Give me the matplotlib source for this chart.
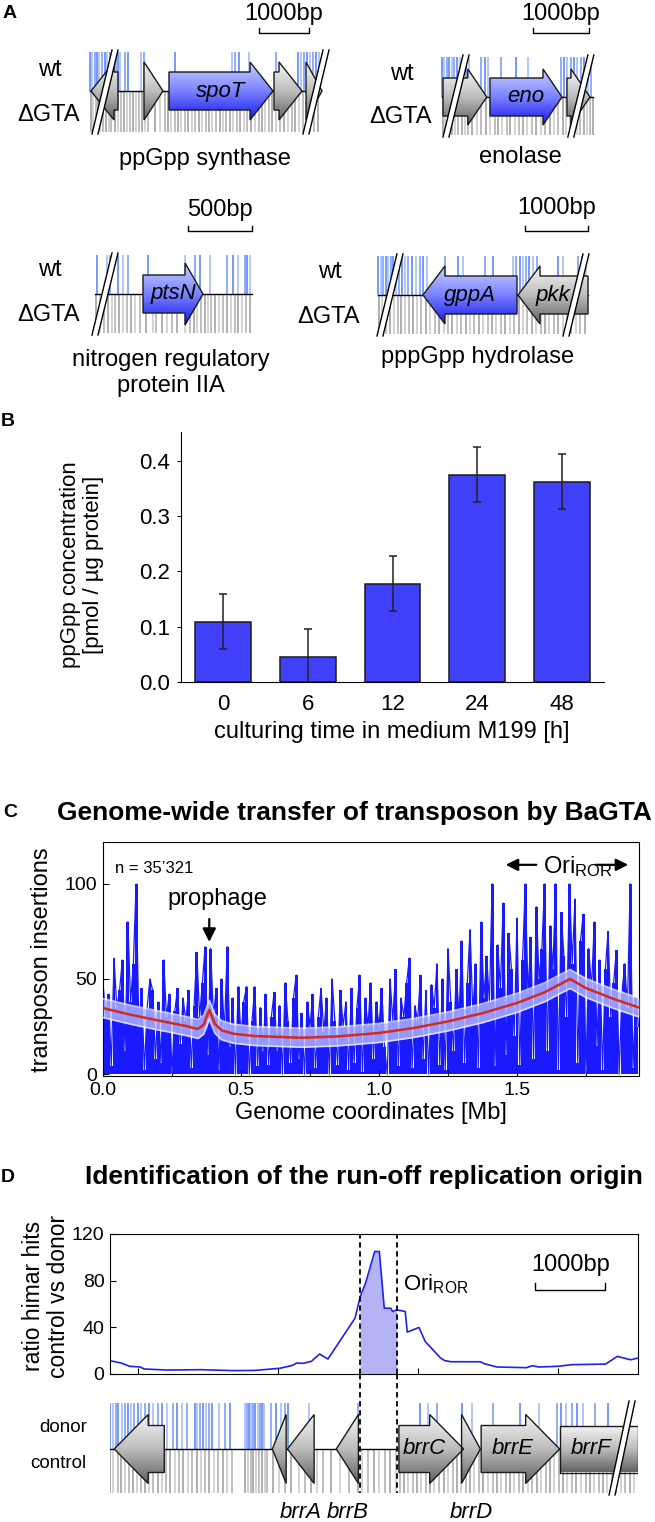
import numpy as np
import matplotlib
matplotlib.use('Agg')
import matplotlib.pyplot as plt
from matplotlib.patches import Polygon
from matplotlib.colors import LinearSegmentedColormap

plt.rcParams['font.family'] = ['Liberation Sans', 'DejaVu Sans']
plt.rcParams['mathtext.fontset'] = 'custom'
plt.rcParams['mathtext.rm'] = 'Liberation Sans'
plt.rcParams['mathtext.it'] = 'Liberation Sans:italic'

# ---------------- data ----------------
# panel A: genes (name, start bp, end bp, strand) and insertion sites (bp)
a1_genes = [('', 20, 560, -1), ('', 1080, 1460, 1), ('spoT', 1580, 3660, 1),
            ('', 3680, 4240, 1), ('', 4320, 4640, 1)]
a1_wt = [0, 40, 100, 140, 180, 240, 300, 340, 400, 440, 480, 520, 560, 600, 700, 760,
         1020, 1080, 1700, 2840, 2900, 2980, 3180, 3720, 4160, 4220, 4280, 4340, 4400,
         4460, 4520, 4580]
a1_gta = [20, 60, 120, 160, 200, 260, 320, 380, 420, 500, 560, 620, 680, 740, 800, 860,
          920, 980, 1040, 1100, 1160, 1300, 1400, 1500, 1560, 1620, 1700, 1760, 1820,
          1900, 1960, 2040, 2100, 2180, 2240, 2320, 2380, 2440, 2520, 2600, 2660, 2720,
          2800, 2860, 2940, 3000, 3080, 3140, 3220, 3300, 3380, 3440, 3500, 3580, 3640,
          3720, 3800, 3880, 3960, 4040, 4100, 4180, 4260, 4340, 4400, 4480, 4560]

a2_genes = [('', 18, 800, 1), ('eno', 857, 2143, 1), ('', 2232, 2643, 1)]
a2_wt = [0, 40, 90, 130, 180, 220, 260, 330, 380, 420, 480, 700, 760, 820, 1050, 1320,
         1540, 2120, 2180, 2240, 2300, 2360, 2420, 2480, 2540, 2600, 2660]
a2_gta = [10, 60, 110, 170, 230, 290, 350, 410, 470, 540, 620, 700, 780, 860, 940, 1000,
          1080, 1160, 1220, 1300, 1380, 1440, 1520, 1600, 1680, 1760, 1840, 1920, 2000,
          2080, 2160, 2220, 2290, 2350, 2410, 2470, 2530, 2590, 2650, 2700]

a3_genes = [('ptsN', 375, 844, 1)]
a3_wt = [13, 91, 117, 182, 221, 260, 416, 703, 781, 820, 898, 1029, 1081, 1120, 1172,
         1185, 1211]
a3_gta = [10, 40, 70, 100, 130, 160, 190, 220, 250, 280, 310, 350, 400, 450, 480, 520,
          560, 600, 640, 700, 740, 770, 800, 830, 860, 880, 910, 940, 970, 1000, 1030,
          1060, 1090, 1120, 1150, 1180, 1210]

a4_genes = [('gppA', 714, 2206, -1), ('pkk', 2222, 3333, -1)]
a4_wt = [0, 40, 80, 120, 160, 200, 240, 290, 330, 380, 430, 480, 540, 600, 660, 720, 770,
         1060, 1270, 1350, 1700, 1830, 2140, 2190, 2250, 2300, 2350, 2400, 2460, 2520,
         2850, 2940, 3180, 3240, 3300]
a4_gta = [10, 70, 130, 190, 250, 310, 370, 430, 490, 560, 620, 690, 760, 830, 900, 970,
          1040, 1110, 1180, 1250, 1320, 1390, 1460, 1530, 1600, 1670, 1740, 1810, 1880,
          1950, 2020, 2090, 2160, 2230, 2300, 2370, 2440, 2510, 2580, 2650, 2720, 2790,
          2860, 2930, 3000, 3070, 3140, 3210, 3280]

# panel B
b_times = ['0', '6', '12', '24', '48']
b_ppgpp = [0.109, 0.045, 0.178, 0.375, 0.362]
b_err = [0.050, 0.050, 0.050, 0.050, 0.050]

# panel C: insertions per 10 kb bin, fitted trend
c_bin = 0.01
c_counts = [48, 30, 42, 4, 61, 35, 44, 60, 12, 80,
            38, 58, 100, 25, 45, 2, 35, 50, 44, 8,
            38, 6, 60, 30, 42, 0, 33, 45, 16, 40,
            28, 44, 3, 36, 64, 30, 48, 67, 10, 66,
            30, 45, 2, 50, 22, 67, 14, 40, 0, 46,
            20, 38, 46, 0, 28, 46, 4, 35, 12, 42,
            5, 30, 43, 12, 36, 0, 48, 28, 6, 40,
            52, 8, 32, 0, 38, 25, 42, 3, 30, 45,
            22, 40, 0, 50, 28, 5, 44, 25, 38, 2,
            45, 6, 35, 52, 1, 40, 25, 48, 8, 38,
            25, 45, 14, 0, 50, 28, 55, 4, 40, 30,
            48, 61, 3, 36, 28, 52, 8, 44, 0, 47,
            35, 58, 5, 50, 2, 66, 38, 12, 55, 30,
            70, 6, 48, 76, 32, 58, 3, 80, 40, 62,
            38, 100, 4, 68, 45, 90, 10, 74, 55, 20,
            82, 5, 60, 100, 42, 72, 8, 88, 50, 66,
            100, 12, 78, 55, 100, 2, 85, 62, 30, 100,
            58, 92, 6, 70, 84, 0, 66, 45, 80, 15,
            60, 2, 55, 75, 30, 48, 65, 0, 42, 58,
            35, 100, 3, 40, 25]
c_fit_x = [0.0, 0.1, 0.2, 0.3, 0.344, 0.365, 0.385, 0.405, 0.43, 0.473, 0.55, 0.72,
           0.85, 1.0, 1.125, 1.25, 1.375, 1.5, 1.6, 1.692, 1.75, 1.85, 1.942]
c_fit_y = [34.7, 31.2, 28.2, 25.3, 23.7, 26.0, 33.8, 26.5, 23.0, 21.2, 20.0, 19.1,
           19.8, 21.6, 24.2, 27.7, 32.0, 37.4, 43.0, 50.0, 45.2, 39.5, 35.0]

# panel D: ratio of himar hits along the locus (bp)
d_pos = [0, 161, 281, 430, 490, 818, 1296, 1773, 2072, 2370, 2430, 2609, 2669, 2758,
         2878, 2997, 3116, 3504, 3576, 3654, 3785, 3851, 3922, 4012, 4042, 4101, 4221,
         4251, 4418, 4507, 4728, 4788, 4878, 5296, 5355, 5534, 5952, 6042, 6131, 6400,
         6609, 7087, 7254, 7445, 7546]
d_ratio = [11.4, 9.4, 6.6, 6.0, 4.3, 3.4, 3.7, 2.9, 3.1, 4.6, 4.9, 7.4, 9.4, 9.1,
           10.8, 17.1, 12.8, 47.9, 66.0, 77.9, 105, 105, 56.4, 56.4, 53.6, 55.0, 53.6,
           35.9, 39.9, 27.9, 13.6, 11.4, 10.5, 10.5, 8.8, 6.0, 5.4, 7.1, 6.0, 6.6,
           8.0, 8.5, 15.1, 12.2, 13.6]
d_ori = [3576, 4101]
d_genes = [('', 60, 776, -1), ('', 2322, 2519, -1), ('brrA', 2537, 2919, -1),
           ('brrB', 3236, 3552, -1), ('brrC', 4131, 5057, 1), ('brrD', 5027, 5296, 1),
           ('brrE', 5307, 6430, 1), ('brrF', 6430, 7546, 0)]
d_donor = [0, 40, 80, 120, 170, 210, 260, 300, 350, 400, 450, 500, 560, 620, 680, 750,
           820, 900, 960, 1030, 1100, 1210, 1250, 1290, 1330, 1370, 1420, 1460, 1560,
           1650, 1720, 1930, 1960, 1990, 2020, 2050, 2080, 2110, 2140, 2170, 2200, 2300,
           2380, 2450, 2500, 2550, 2840, 3540, 4430, 4550, 4670, 5040, 5170, 5470, 5860,
           6130, 6390, 6450, 6520, 6600, 6680, 6760, 6940, 7120]
d_control = [0, 50, 110, 160, 220, 270, 330, 390, 440, 500, 560, 610, 680, 740, 800,
             860, 930, 990, 1050, 1110, 1170, 1240, 1300, 1360, 1420, 1490, 1550, 1610,
             1680, 1740, 1930, 1970, 2010, 2050, 2090, 2130, 2170, 2210, 2250, 2330,
             2420, 2500, 2590, 2700, 2790, 2880, 2960, 3050, 3160, 3290, 3420, 3540,
             3610, 3690, 3770, 3850, 3930, 4010, 4090, 4140, 4200, 4260, 4330, 4390,
             4450, 4520, 4580, 4640, 4710, 4770, 4830, 4900, 4960, 5020, 5090, 5150,
             5210, 5280, 5340, 5400, 5470, 5530, 5590, 5660, 5720, 5780, 5850, 5910,
             5970, 6040, 6100, 6160, 6230, 6290, 6350, 6420, 6480, 6540, 6610, 6670,
             6730, 6800, 6860, 6920, 6990, 7050, 7110, 7180, 7240, 7300, 7370, 7430,
             7490]

# ---------------- helpers ----------------
W, H = 655, 1522
fig = plt.figure(figsize=(W / 100, H / 100), dpi=100)


def px_axes(x0, y0, x1, y1):
    return fig.add_axes([x0 / W, 1 - y1 / H, (x1 - x0) / W, (y1 - y0) / H])


def ftext(x, y, s, **kw):
    kw.setdefault('ha', 'center')
    kw.setdefault('va', 'center')
    fig.text(x / W, 1 - y / H, s, **kw)


BLUE_GRAD = LinearSegmentedColormap.from_list('bg', ['#c9d0ff', '#7a82ff', '#1818ee'])
GREY_GRAD = LinearSegmentedColormap.from_list('gg', ['#f5f5f5', '#bdbdbd', '#626262'])
GRAD = np.linspace(0, 1, 100).reshape(-1, 1)


def arrow_pts(s, e, strand, hl, bh, hh):
    if strand == 0:
        return [(s, -bh), (e, -bh), (e, bh), (s, bh)]
    hl = min(hl, e - s)
    if strand > 0:
        b = e - hl
        return [(s, -bh), (b, -bh), (b, -hh), (e, 0), (b, hh), (b, bh), (s, bh)]
    b = s + hl
    return [(e, -bh), (b, -bh), (b, -hh), (s, 0), (b, hh), (b, bh), (e, bh)]


def draw_gene(ax, s, e, strand, cmap, hl, bh, hh):
    pts = arrow_pts(s, e, strand, hl, bh, hh)
    patch = Polygon(pts, closed=True, fc='none', ec='#1a1a1a', lw=1.0, zorder=4)
    ax.add_patch(patch)
    ys = [p[1] for p in pts]
    im = ax.imshow(GRAD, extent=(s, e, min(ys), max(ys)), cmap=cmap, aspect='auto',
                   origin='upper', zorder=3, interpolation='bilinear')
    im.set_clip_path(patch)


def draw_break(ax, xc, y0, y1, bpp, slant=20, gap=6):
    dx = slant * bpp / 2
    g = gap * bpp / 2
    xs = [xc - dx - g, xc - dx + g, xc + dx + g, xc + dx - g]
    ax.fill(xs, [y0, y0, y1, y1], color='white', lw=0, zorder=6)
    ax.plot([xs[0], xs[3]], [y0, y1], color='k', lw=1.0, zorder=7)
    ax.plot([xs[1], xs[2]], [y0, y1], color='k', lw=1.0, zorder=7)


def ticks(ax, sites, y0, y1, color):
    alphas = [1.0, 0.55, 0.8]
    for k, a in enumerate(alphas):
        ax.vlines(sites[k::3], y0, y1, colors=color, lw=1.1, alpha=a, zorder=1)


def gene_map(rect, x0px, yc, bpp, span, genes, hi, top_sites, bot_sites, breaks,
             head_px, bh, hh, up, dn, label_frac=0.5, below=-63):
    ax = px_axes(*rect)
    ax.set_axis_off()
    ticks(ax, top_sites, 0, up, '#4f7dff')
    ticks(ax, bot_sites, -dn, 0, '#9a9a9a')
    ax.plot(span, [0, 0], color='k', lw=1.0, zorder=2)
    hl = head_px * bpp
    for name, s, e, strand in genes:
        cmap = BLUE_GRAD if name in hi else GREY_GRAD
        draw_gene(ax, s, e, strand, cmap, hl, bh, hh)
        if not name:
            continue
        if name in ('brrA', 'brrB', 'brrD'):
            ax.text((s + e) / 2, below, name, ha='center', va='center', fontsize=16,
                    style='italic', clip_on=False)
        else:
            if strand < 0:
                lx = e - label_frac * (e - s)
            else:
                lx = s + label_frac * (e - s)
            ax.text(lx, 0, name, ha='center', va='center', fontsize=16,
                    style='italic', zorder=8)
    for xb in breaks:
        draw_break(ax, xb, -dn - 2, up + 2, bpp)
    ax.set_xlim((rect[0] - x0px) * bpp, (rect[2] - x0px) * bpp)
    ax.set_ylim(yc - rect[3], yc - rect[1])
    return ax


def scale_bar(ax, x0, x1, y, text, dy=19):
    ax.plot([x0, x0, x1, x1], [y + 5, y, y, y + 5], color='k', lw=1.0, clip_on=False)
    ax.text((x0 + x1) / 2, y + dy, text, ha='center', va='center', fontsize=17,
            clip_on=False)


# ---------------- panel A ----------------
ftext(10, 14, 'A', fontsize=14, fontweight='bold')

ax = gene_map((82, 5, 330, 140), 90, 91, 20.0, (0, 4600), a1_genes, ['spoT'], a1_wt,
              a1_gta, [300, 4520], 23, 19, 29, 39, 41)
scale_bar(ax, 3380, 4380, 58, '1000bp')
ax = gene_map((434, 5, 600, 145), 442, 97, 17.86, (0, 2700), a2_genes, ['eno'], a2_wt,
              a2_gta, [250, 2480], 19, 19, 28, 40, 38)
scale_bar(ax, 1625, 2625, 64, '1000bp')
ax = gene_map((85, 190, 262, 342), 95, 294, 7.8125, (0, 1227), a3_genes, ['ptsN'],
              a3_wt, a3_gta, [78], 18, 19, 31, 39, 39)
scale_bar(ax, 727, 1227, 63, '500bp', dy=21)
ax = gene_map((370, 190, 600, 342), 378, 295, 15.87, (0, 3333), a4_genes, ['gppA'],
              a4_wt, a4_gta, [190, 3142], 22, 19, 29, 39, 39)
scale_bar(ax, 2333, 3333, 64, '1000bp', dy=23)

for (xw, yw, xd, yd) in [(50, 70, 49, 115), (402, 74, 400, 117), (50, 270, 49, 315),
                         (330, 272, 328, 317)]:
    ftext(xw, yw, 'wt', fontsize=17)
    ftext(xd, yd, 'ΔGTA', fontsize=17)
ftext(205, 159, 'ppGpp synthase', fontsize=17)
ftext(520, 157, 'enolase', fontsize=17)
ftext(171, 373, 'nitrogen regulatory\nprotein IIA', fontsize=17, linespacing=1.25)
ftext(478, 357, 'pppGpp hydrolase', fontsize=17)

# ---------------- panel B ----------------
ftext(8, 422, 'B', fontsize=14, fontweight='bold')
axb = px_axes(181, 432, 604, 682)
xb = np.arange(len(b_times))
axb.bar(xb, b_ppgpp, width=0.66, color='#4040fb', edgecolor='#1a1a1a', lw=1.1,
        yerr=b_err, capsize=3,
        error_kw=dict(ecolor='#222222', elinewidth=1.1, capthick=1.1))
axb.set_xlim(-0.5, 4.5)
axb.set_ylim(0, 0.452)
axb.set_xticks(xb)
axb.set_xticklabels(b_times)
axb.set_yticks([0, 0.1, 0.2, 0.3, 0.4])
axb.set_yticklabels(['0.0', '0.1', '0.2', '0.3', '0.4'])
axb.spines['top'].set_visible(False)
axb.spines['right'].set_visible(False)
axb.tick_params(axis='x', length=0, pad=9, labelsize=16)
axb.tick_params(axis='y', length=3, pad=5, labelsize=16)
ftext(82, 565, 'ppGpp concentration\n[pmol / µg protein]', fontsize=16, rotation=90,
      linespacing=1.15)
ftext(392, 732, 'culturing time in medium M199 [h]', fontsize=17)

# ---------------- panel C ----------------
ftext(10, 813, 'C', fontsize=14, fontweight='bold')
ftext(354, 813, 'Genome-wide transfer of transposon by BaGTA', fontsize=19,
      fontweight='bold')
axc = px_axes(103, 842, 639, 1076)
cx = np.arange(len(c_counts)) * c_bin
axc.fill_between(cx, 0, c_counts, step='mid', color='#1a1aff', lw=0, zorder=1)
axc.plot(cx, c_counts, color='#1a1aff', lw=0.9, zorder=2)
fit_y = np.array(c_fit_y)
axc.fill_between(c_fit_x, fit_y - 5, fit_y + 5, color='#b4b8ff', alpha=0.8, lw=0,
                 zorder=3)
axc.plot(c_fit_x, fit_y - 5, color='white', lw=1.2, alpha=0.7, zorder=3)
axc.plot(c_fit_x, fit_y + 5, color='white', lw=1.2, alpha=0.7, zorder=3)
axc.plot(c_fit_x, c_fit_y, color='#d42a1e', lw=1.8, zorder=4)
axc.set_xlim(0, 1.942)
axc.set_ylim(-1, 122)
axc.set_xticks([0, 0.5, 1.0, 1.5])
axc.set_xticklabels(['0.0', '0.5', '1.0', '1.5'])
axc.set_xticks([0.25, 0.75, 1.25, 1.75], minor=True)
axc.set_yticks([0, 50, 100])
axc.tick_params(which='both', direction='in', length=4, labelsize=14, pad=4)
axc.text(0.043, 108, 'n = 35’321', fontsize=12, ha='left', va='center')
axc.text(0.413, 92, 'prophage', fontsize=17, ha='center', va='center')
axc.annotate('', xy=(0.385, 68), xytext=(0.385, 83),
             arrowprops=dict(arrowstyle='-|>', color='k', lw=1.6, mutation_scale=20))
axc.text(1.595, 109, r'Ori$_{\mathregular{ROR}}$', fontsize=17, ha='left', va='center')
axc.annotate('', xy=(1.449, 110), xytext=(1.58, 110),
             arrowprops=dict(arrowstyle='-|>', color='k', lw=1.6, mutation_scale=18))
axc.annotate('', xy=(1.913, 110), xytext=(1.775, 110),
             arrowprops=dict(arrowstyle='-|>', color='k', lw=1.6, mutation_scale=18))
ftext(42, 960, 'transposon insertions', fontsize=17, rotation=90)
ftext(371, 1113, 'Genome coordinates [Mb]', fontsize=17)

# ---------------- panel D ----------------
ftext(8, 1177, 'D', fontsize=14, fontweight='bold')
ftext(364, 1177, 'Identification of the run-off replication origin', fontsize=19,
      fontweight='bold')
axd = px_axes(110, 1234, 638, 1374)
dx = np.array(d_pos)
dy = np.array(d_ratio)
inside = (dx >= d_ori[0]) & (dx <= d_ori[1])
axd.fill_between(dx, 0, dy, where=inside, color='#b3b3f5', lw=0, zorder=1)
axd.plot(dx, dy, color='#2020f0', lw=1.2, zorder=2)
for xo in d_ori:
    axd.axvline(xo, color='k', ls=(0, (3, 2)), lw=1.3, zorder=3)
axd.set_xlim(0, 7550)
axd.set_ylim(0, 120)
axd.set_yticks([0, 40, 80, 120])
axd.set_xticks([400, 2400, 4400, 6400])
axd.set_xticklabels([])
axd.tick_params(direction='in', length=4, labelsize=14, pad=4)
axd.text(4190, 77, r'Ori$_{\mathregular{ROR}}$', fontsize=16, ha='left', va='center')
axd.plot([6080, 6080, 7080, 7080], [78, 72, 72, 78], color='k', lw=1.0)
axd.text(6580, 93, '1000bp', fontsize=17, ha='center', va='center')
ftext(46, 1296, 'ratio himar hits\ncontrol vs donor', fontsize=16.5, rotation=90,
      linespacing=1.1)

axm = gene_map((110, 1374, 638, 1522), 110, 1449, 7550 / 528, (0, 7550), d_genes, [],
               d_donor, d_control, [7322], 34, 23.5, 34.5, 46, 44, label_frac=0.4)
for xo in d_ori:
    axm.plot([xo, xo], [75, -44], color='k', ls=(0, (3, 2)), lw=1.3, zorder=9)
ftext(63, 1428, 'donor', fontsize=13.5)
ftext(58, 1463, 'control', fontsize=13.5)

fig.savefig('out.png', dpi=100)
